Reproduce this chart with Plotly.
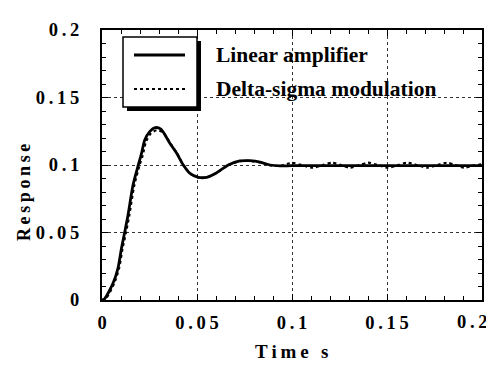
import plotly.graph_objects as go

# ---- data ----
t_lin = [0, 0.0014, 0.0058, 0.0084, 0.0102, 0.0119, 0.0137, 0.0163, 0.019, 0.0207,
         0.0225, 0.0251, 0.028, 0.031, 0.0358, 0.0393, 0.0428, 0.0463, 0.0507, 0.0551,
         0.0604, 0.0665, 0.0726, 0.0779, 0.0832, 0.0884, 0.0937, 0.1, 0.12, 0.14, 0.16,
         0.18, 0.2]
y_lin = [0, 0.001, 0.0124, 0.0235, 0.038, 0.0499, 0.063, 0.085, 0.0995, 0.108,
         0.1185, 0.1247, 0.1277, 0.1265, 0.116, 0.1087, 0.1, 0.0938, 0.0909, 0.0909,
         0.0943, 0.1, 0.103, 0.1032, 0.1022, 0.1, 0.0993, 0.0995, 0.0995, 0.0995, 0.0995,
         0.0995, 0.0995]

t_ds = [0, 0.002, 0.0064, 0.009, 0.0108, 0.0126, 0.0144, 0.017, 0.0197, 0.0214,
        0.0232, 0.0258, 0.0288, 0.0318, 0.036, 0.0395, 0.043, 0.0465, 0.0507, 0.055,
        0.0604, 0.0665, 0.0726, 0.0779, 0.0832, 0.0884, 0.0937, 0.1, 0.1055, 0.111,
        0.116, 0.121, 0.1258, 0.1305, 0.1353, 0.140, 0.1453, 0.1505, 0.1555, 0.1605,
        0.166, 0.171, 0.176, 0.1816, 0.186, 0.191, 0.1955, 0.2]
y_ds = [0, 0.001, 0.0124, 0.0235, 0.038, 0.0499, 0.063, 0.085, 0.0995, 0.107,
        0.1175, 0.1235, 0.1258, 0.1245, 0.116, 0.1085, 0.0995, 0.0935, 0.0907, 0.0909,
        0.0943, 0.1, 0.1028, 0.103, 0.102, 0.0998, 0.0993, 0.1016, 0.0998, 0.098,
        0.0998, 0.1017, 0.0999, 0.098, 0.0998, 0.1017, 0.0999, 0.098, 0.0998, 0.1017,
        0.0999, 0.098, 0.0998, 0.1017, 0.0999, 0.098, 0.0997, 0.1005]

x_ticks = [0, 0.05, 0.1, 0.15, 0.2]
x_ticktext = ["0", "0.05", "0.1", "0.15", "0.2"]
y_ticks = [0, 0.05, 0.1, 0.15, 0.2]
y_ticktext = ["0", "0.05", "0.1", "0.15", "0.2"]
series_names = ["Linear amplifier", "Delta-sigma modulation"]
x_title = "Time s"
y_title = "Response"

SP = "\u2009"
def spaced(s):
    return SP.join(list(s))

FONT = "Liberation Serif, Times New Roman, serif"
tick_font = dict(family=FONT, size=18.5, color="black", weight="bold")

fig = go.Figure()
fig.add_trace(go.Scatter(x=t_ds, y=y_ds, mode="lines", name=series_names[1],
                         line=dict(color="black", width=2.2, dash="dot", shape="spline",
                                   smoothing=0.7)))
fig.add_trace(go.Scatter(x=t_lin, y=y_lin, mode="lines", name=series_names[0],
                         line=dict(color="black", width=2.8, shape="spline", smoothing=0.7)))

axis_common = dict(
    showline=True, linecolor="black", linewidth=2, mirror="allticks",
    ticks="inside", ticklen=6, tickwidth=1, tickcolor="black",
    showgrid=True, gridcolor="#333", gridwidth=1, griddash="dot",
    zeroline=False, automargin=False,
    tickfont=tick_font,
    minor=dict(ticks="inside", ticklen=4, tickcolor="black", tickwidth=1, showgrid=False),
)

# the last x label sits at the page edge; it is drawn as an annotation so it stays inside
x_labels_axis = [spaced(s) for s in x_ticktext[:-1]] + [""]
fig.update_xaxes(range=[0, 0.2], tickmode="array", tickvals=x_ticks,
                 ticktext=x_labels_axis,
                 minor_dtick=0.01, ticklabelstandoff=5, **axis_common)
fig.update_yaxes(range=[0, 0.2], tickmode="array", tickvals=y_ticks,
                 ticktext=[spaced(s) for s in y_ticktext],
                 minor_dtick=0.01, ticklabelstandoff=17, **axis_common)

# page body has an 8px margin; figure coordinates below are in reference pixels
OFF = 8
W, H = 494 - OFF, 370 - OFF
L, T = 102 - OFF, 30 - OFF
R = W - (482 - OFF)
B = H - (300 - OFF)
pw, ph = W - L - R, H - T - B

def px(x):
    return (x - OFF - L) / pw
def py(y):
    return 1 - (y - OFF - T) / ph

shapes = [
    dict(type="rect", xref="paper", yref="paper", x0=px(127), x1=px(201), y0=py(111), y1=py(41),
         fillcolor="black", line=dict(width=0)),
    dict(type="rect", xref="paper", yref="paper", x0=px(123), x1=px(197), y0=py(107), y1=py(37),
         fillcolor="white", line=dict(color="black", width=1.5)),
    dict(type="line", xref="paper", yref="paper", x0=px(134), x1=px(185), y0=py(55), y1=py(55),
         line=dict(color="black", width=2.8)),
    dict(type="line", xref="paper", yref="paper", x0=px(134), x1=px(185), y0=py(89), y1=py(89),
         line=dict(color="black", width=2.2, dash="dot")),
]

legend_font = dict(family=FONT, size=21.5, color="black", weight="bold")
title_font = dict(family=FONT, size=19, color="black", weight="bold")
annotations = [
    dict(text=series_names[0], xref="paper", yref="paper", x=px(214), y=py(55),
         xanchor="left", yanchor="middle", showarrow=False, font=legend_font),
    dict(text=series_names[1], xref="paper", yref="paper", x=px(214), y=py(89),
         xanchor="left", yanchor="middle", showarrow=False, font=legend_font),
    dict(text=spaced(x_ticktext[-1]), xref="x", yref="paper", x=x_ticks[-1], y=py(322),
         xanchor="right", yanchor="middle", xshift=8, showarrow=False, font=tick_font),
    dict(text=spaced(x_title), xref="paper", yref="paper", x=px(291), y=py(351),
         xanchor="center", yanchor="middle", showarrow=False, font=title_font),
    dict(text=spaced(y_title), xref="paper", yref="paper", x=px(24), y=py(193),
         xanchor="center", yanchor="middle", showarrow=False, textangle=-90,
         font=dict(family=FONT, size=18, color="black", weight="bold")),
]

fig.update_layout(
    width=W, height=H,
    margin=dict(l=L, r=R, t=T, b=B, autoexpand=False),
    paper_bgcolor="white", plot_bgcolor="white",
    showlegend=False,
    shapes=shapes, annotations=annotations,
)

fig.write_html("out.html")
